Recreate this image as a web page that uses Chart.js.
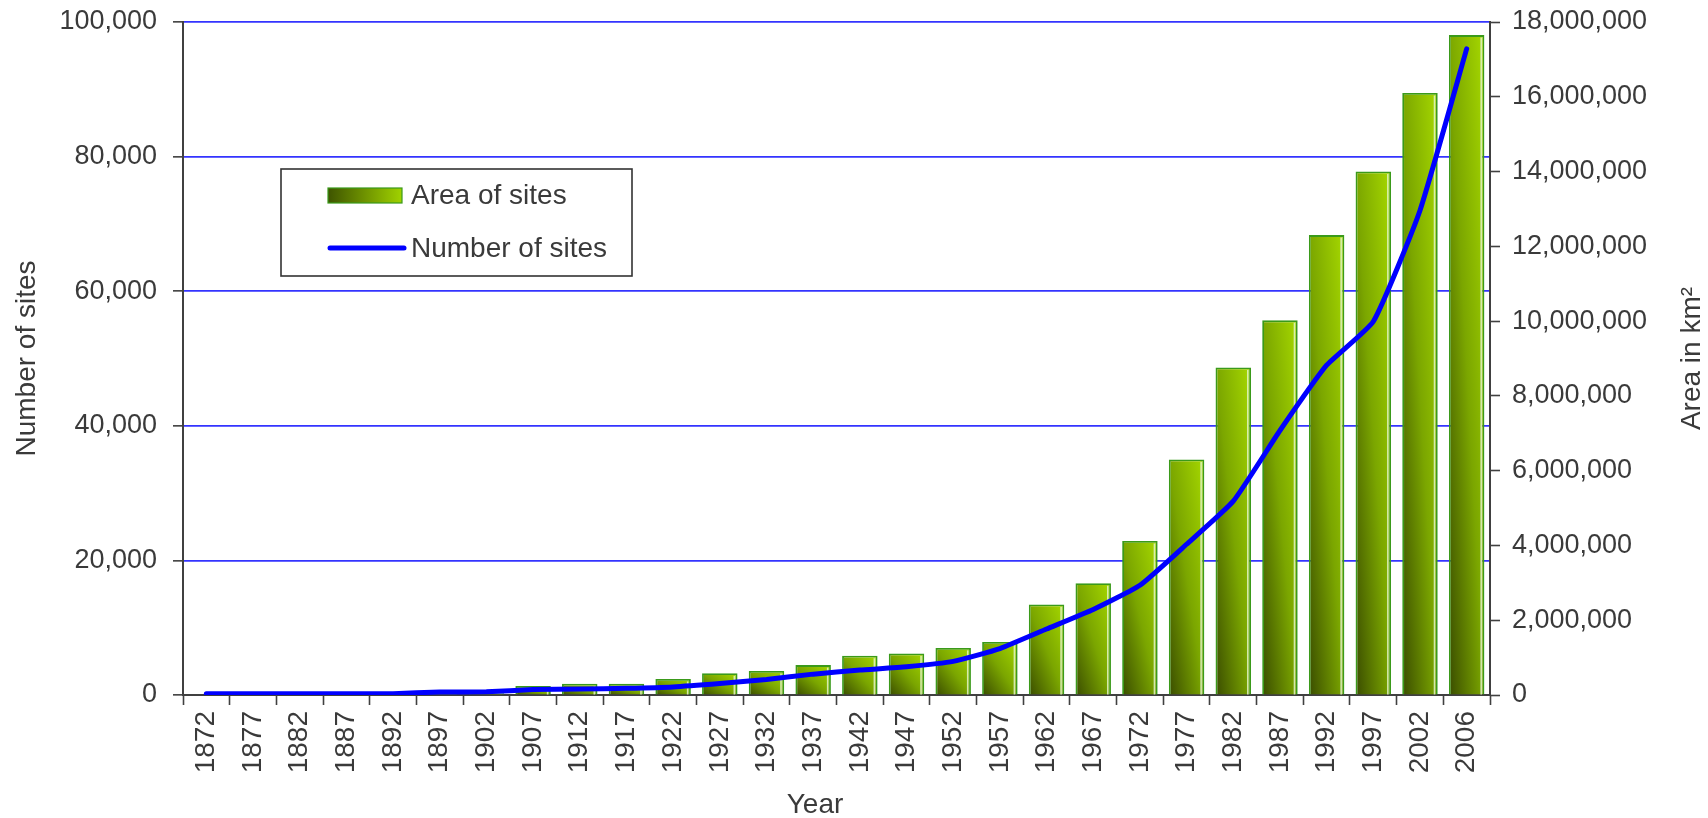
<!DOCTYPE html>
<html>
<head>
<meta charset="utf-8">
<script src="https://cdn.jsdelivr.net/npm/chart.js@4.4.0/dist/chart.umd.min.js"></script>
<style>
html,body{margin:0;padding:0;background:#ffffff;}
#wrap{position:relative;width:1708px;height:818px;}
</style>
</head>
<body>
<div id="wrap"><canvas id="c"></canvas></div>
<script>
// ---- data ----
const years = ['1872','1877','1882','1887','1892','1897','1902','1907','1912','1917','1922','1927','1932','1937','1942','1947','1952','1957','1962','1967','1972','1977','1982','1987','1992','1997','2002','2006'];
const areaOfSites = [0,0,0,0,0,30000,50000,240000,300000,300000,430000,580000,640000,800000,1050000,1110000,1260000,1420000,2420000,2990000,4120000,6300000,8760000,10020000,12300000,14000000,16100000,17650000];
const numberOfSites = [200,200,200,200,200,450,480,800,900,1000,1200,1700,2300,3100,3700,4200,5000,6900,9800,12700,16300,22400,28800,39300,49000,55500,72000,96000];
const seriesLabels = ['Area of sites','Number of sites'];
const axisTitles = ['Year','Number of sites','Area in km\u00B2'];
const leftAxisMax = 100000, leftAxisStep = 20000;
const rightAxisMax = 18000000, rightAxisStep = 2000000;

// ---- style ----
const FONT = '"Liberation Sans", Arial, sans-serif';
const TXT = '#3a3a3a';
const AXIS = '#404040';
const BAR_PCT = 0.76;
const fmt = v => Number(v).toLocaleString('en-US');

function barGradient(ctx) {
  const fallback = '#7fa800';
  const chart = ctx.chart;
  const xs = chart.scales.x, ys = chart.scales.y2;
  if (!xs || !ys || ctx.type !== 'data' || !chart.chartArea) return fallback;
  const i = ctx.dataIndex;
  const cx = xs.getPixelForValue(i);
  const w = (xs.width / years.length) * BAR_PCT;
  const x0 = cx - w / 2;
  const top = ys.getPixelForValue(ctx.raw);
  const base = ys.getPixelForValue(0);
  const h = Math.max(base - top, 1);
  const d2 = w * w + h * h;
  const dx = 2 * w * h * h / d2, dy = 2 * h * w * w / d2;
  if (![cx, w, x0, top, base, dx, dy].every(Number.isFinite) || w <= 0) return fallback;
  const g = chart.ctx.createLinearGradient(x0, base, x0 + dx, base - dy);
  g.addColorStop(0, '#3a4c00');
  g.addColorStop(0.5, '#7ba600');
  g.addColorStop(1, '#a6d800');
  return g;
}

const barHighlight = {
  id: 'barHighlight',
  afterDatasetDraw(chart, args) {
    if (args.index !== 0) return;
    const c = chart.ctx;
    c.save();
    c.strokeStyle = 'rgba(225,245,205,0.85)';
    c.lineWidth = 1.6;
    args.meta.data.forEach(el => {
      if (!(el.base - el.y >= 4)) return;
      const x = el.x + el.width / 2 - 3.2;
      c.beginPath();
      c.moveTo(x, el.y + 2.5);
      c.lineTo(x, el.base);
      c.stroke();
    });
    c.restore();
  }
};

const customLegend = {
  id: 'customLegend',
  afterDraw(chart) {
    const c = chart.ctx;
    c.save();
    c.strokeStyle = '#333333';
    c.lineWidth = 1.6;
    c.fillStyle = '#ffffff';
    c.fillRect(281, 169, 351, 107);
    c.strokeRect(281, 169, 351, 107);
    const g = c.createLinearGradient(328, 0, 402, 0);
    g.addColorStop(0, '#3e5400');
    g.addColorStop(1, '#a0d200');
    c.fillStyle = g;
    c.fillRect(328, 188, 74, 15);
    c.strokeStyle = '#3a9a1a';
    c.lineWidth = 1.2;
    c.strokeRect(328, 188, 74, 15);
    c.strokeStyle = '#0000ff';
    c.lineWidth = 5;
    c.lineCap = 'round';
    c.beginPath();
    c.moveTo(330, 248);
    c.lineTo(404, 248);
    c.stroke();
    c.fillStyle = TXT;
    c.font = '28px ' + FONT;
    c.textBaseline = 'middle';
    c.textAlign = 'left';
    c.fillText(chart.data.datasets[0].label, 411, 196);
    c.fillText(chart.data.datasets[1].label, 411, 249);
    c.restore();
  }
};

const axisTitlePlugin = {
  id: 'axisTitlePlugin',
  afterDraw(chart) {
    const c = chart.ctx;
    const ca = chart.chartArea;
    c.save();
    c.fillStyle = TXT;
    c.font = '28px ' + FONT;
    c.textAlign = 'center';
    c.textBaseline = 'middle';
    // bottom title
    c.fillText(axisTitles[0], 815, 805);
    // right title (reads bottom-to-top)
    c.translate(1692, (ca.top + ca.bottom) / 2);
    c.rotate(-Math.PI / 2);
    c.fillText(axisTitles[2], 0, 0);
    c.restore();
  }
};

function fixBox(w, h) {
  return s => {
    if (w !== null) s.width = w;
    if (h !== null) s.height = h;
    s.paddingTop = 0; s.paddingBottom = 0; s.paddingLeft = 0; s.paddingRight = 0;
  };
}

new Chart(document.getElementById('c'), {
  type: 'bar',
  data: {
    labels: years,
    datasets: [
      {
        type: 'bar',
        label: seriesLabels[0],
        data: areaOfSites,
        yAxisID: 'y2',
        backgroundColor: barGradient,
        borderColor: '#3a9a1a',
        borderWidth: 1.8,
        borderSkipped: 'bottom',
        barPercentage: BAR_PCT,
        categoryPercentage: 1.0,
        order: 1
      },
      {
        type: 'line',
        label: seriesLabels[1],
        data: numberOfSites,
        yAxisID: 'y',
        borderColor: '#0000ff',
        backgroundColor: '#0000ff',
        borderWidth: 5,
        pointRadius: 0,
        tension: 0.15,
        fill: false,
        borderCapStyle: 'round',
        order: 0
      }
    ]
  },
  options: {
    responsive: true,
    maintainAspectRatio: false,
    animation: false,
    devicePixelRatio: 1,
    layout: { padding: { top: 22, left: 0, right: 0, bottom: 0 } },
    plugins: {
      legend: { display: false },
      tooltip: { enabled: false }
    },
    scales: {
      x: {
        type: 'category',
        offset: true,
        afterFit: fixBox(null, 123),
        grid: {
          display: true,
          offset: true,
          drawOnChartArea: false,
          tickLength: 10,
          tickColor: AXIS,
          tickWidth: 1.6
        },
        border: { display: true, color: AXIS, width: 2 },
        ticks: {
          minRotation: 90,
          maxRotation: 90,
          autoSkip: false,
          padding: 6,
          color: TXT,
          font: { family: FONT, size: 28 }
        },
        title: { display: false }
      },
      y: {
        position: 'left',
        min: 0,
        max: leftAxisMax,
        afterFit: fixBox(183, null),
        grid: {
          color: ctx => (ctx.tick && ctx.tick.value === 0) ? 'rgba(0,0,0,0)' : '#3434ff',
          lineWidth: 1.7,
          tickLength: 10,
          tickColor: AXIS,
          tickWidth: 1.6
        },
        border: { display: true, color: AXIS, width: 2 },
        ticks: {
          stepSize: leftAxisStep,
          padding: 16,
          color: TXT,
          font: { family: FONT, size: 27 },
          callback: v => fmt(v)
        },
        title: {
          display: true,
          text: axisTitles[1],
          color: TXT,
          font: { family: FONT, size: 28 },
          padding: { top: 10, bottom: 0 }
        }
      },
      y2: {
        position: 'right',
        min: 0,
        max: rightAxisMax,
        afterFit: fixBox(218, null),
        grid: {
          display: true,
          drawOnChartArea: false,
          tickLength: 10,
          tickColor: AXIS,
          tickWidth: 1.6
        },
        border: { display: true, color: AXIS, width: 2 },
        ticks: {
          stepSize: rightAxisStep,
          padding: 12,
          color: TXT,
          font: { family: FONT, size: 27 },
          callback: v => fmt(v)
        }
      }
    }
  },
  plugins: [barHighlight, customLegend, axisTitlePlugin]
});
</script>
</body>
</html>
